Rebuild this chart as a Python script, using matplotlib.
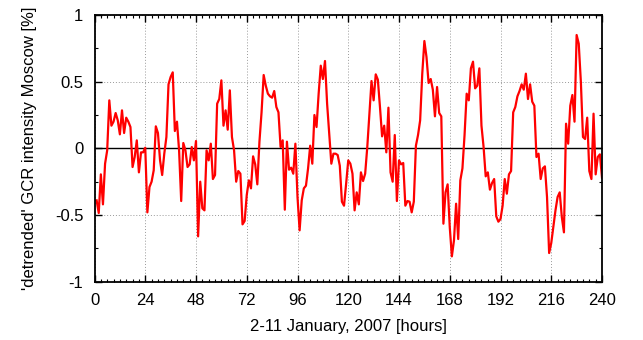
import numpy as np
import matplotlib
matplotlib.use("Agg")
import matplotlib.pyplot as plt
from matplotlib.ticker import MultipleLocator

plt.rcParams['font.family'] = ['Liberation Sans', 'DejaVu Sans']
plt.rcParams['axes.unicode_minus'] = False

hours = np.arange(1, 241)
intensity = [
    -0.39, -0.485, -0.195, -0.42, -0.115, -0.015, 0.36, 0.17, 0.2, 0.265,
    0.21, 0.105, 0.285, 0.115, 0.23, 0.2, 0.16, -0.14, -0.065, 0.06,
    -0.18, -0.03, -0.03, 0.005, -0.48, -0.29, -0.25, -0.165, 0.165, 0.115,
    -0.09, -0.2, -0.04, 0.085, 0.48, 0.535, 0.57, 0.13, 0.2, -0.015,
    -0.395, 0.04, -0.015, -0.14, -0.12, 0.01, -0.09, 0.055, -0.66, -0.25,
    -0.45, -0.465, -0.015, -0.09, 0.035, -0.23, -0.2, 0.335, 0.37, 0.51,
    0.17, 0.285, 0.14, 0.435, 0.085, -0.015, -0.25, -0.17, -0.19, -0.57,
    -0.545, -0.35, -0.24, -0.3, -0.06, -0.12, -0.27, 0.05, 0.27, 0.55,
    0.47, 0.41, 0.39, 0.38, 0.43, 0.31, 0.27, 0.01, 0.06, -0.46,
    0.05, -0.16, -0.145, -0.19, 0.035, -0.365, -0.615, -0.39, -0.3, -0.28,
    -0.15, 0.02, -0.115, 0.25, 0.16, 0.41, 0.62, 0.52, 0.655, 0.335,
    0.11, -0.115, -0.04, -0.04, -0.05, -0.13, -0.4, -0.43, -0.265, -0.09,
    -0.115, -0.19, -0.465, -0.33, -0.42, -0.18, -0.245, -0.19, 0.01, 0.26,
    0.505, 0.36, 0.555, 0.515, 0.31, 0.09, 0.17, -0.03, 0.305, -0.18,
    -0.25, 0.1, -0.395, -0.09, -0.12, -0.11, -0.43, -0.395, -0.4, -0.48,
    -0.4, 0.02, 0.1, 0.21, 0.56, 0.805, 0.685, 0.49, 0.52, 0.44,
    0.24, 0.46, 0.265, 0.24, -0.565, -0.33, -0.27, -0.59, -0.81, -0.69,
    -0.415, -0.68, -0.24, -0.15, 0.1, 0.41, 0.36, 0.6, 0.65, 0.45,
    0.47, 0.6, 0.17, 0.01, -0.21, -0.18, -0.31, -0.26, -0.23, -0.51,
    -0.55, -0.53, -0.43, -0.23, -0.34, -0.195, -0.17, 0.27, 0.31, 0.39,
    0.43, 0.48, 0.44, 0.56, 0.37, 0.48, 0.35, 0.32, -0.065, -0.04,
    -0.23, -0.15, -0.135, -0.365, -0.785, -0.71, -0.59, -0.465, -0.365, -0.33,
    -0.515, -0.63, 0.185, 0.035, 0.32, 0.4, 0.2, 0.85, 0.785, 0.5,
    0.085, 0.07, 0.23, -0.17, -0.23, 0.26, -0.195, -0.065, -0.045, -0.22,
]

x_ticks = [0, 24, 48, 72, 96, 120, 144, 168, 192, 216, 240]
y_ticks = [-1, -0.5, 0, 0.5, 1]
y_ticklabels = ["-1", "-0.5", "0", "0.5", "1"]

fig = plt.figure(figsize=(6.43, 3.40), dpi=100)
ax = fig.add_axes([94.5 / 643, 1 - 281.7 / 340, (602 - 94.5) / 643, (281.7 - 15) / 340])

ax.plot(hours, intensity, color='#ff0000', lw=1.6, zorder=3)
ax.axhline(0, color='black', lw=1.0, zorder=2)

ax.set_xlim(0, 240)
ax.set_ylim(-1, 1)
ax.set_xticks(x_ticks)
ax.set_yticks(y_ticks)
ax.set_yticklabels(y_ticklabels)
ax.xaxis.set_minor_locator(MultipleLocator(3))
ax.yaxis.set_minor_locator(MultipleLocator(0.25))

ax.grid(True, which='major', color='#999999', linestyle=(0, (1, 2)), lw=0.7)
ax.tick_params(which='both', direction='in', top=True, right=True, labelsize=12, colors='black')
ax.tick_params(which='major', length=5, width=1.0, pad=8)
ax.tick_params(which='minor', length=2.5, width=0.8)
for s in ax.spines.values():
    s.set_linewidth(1.3)
    s.set_zorder(4)

ax.set_xlabel("2-11 January, 2007 [hours]", fontsize=12, labelpad=8)
ax.set_ylabel("'detrended' GCR intensity Moscow [%]", fontsize=12, labelpad=13)

fig.savefig("out.png", dpi=100)
